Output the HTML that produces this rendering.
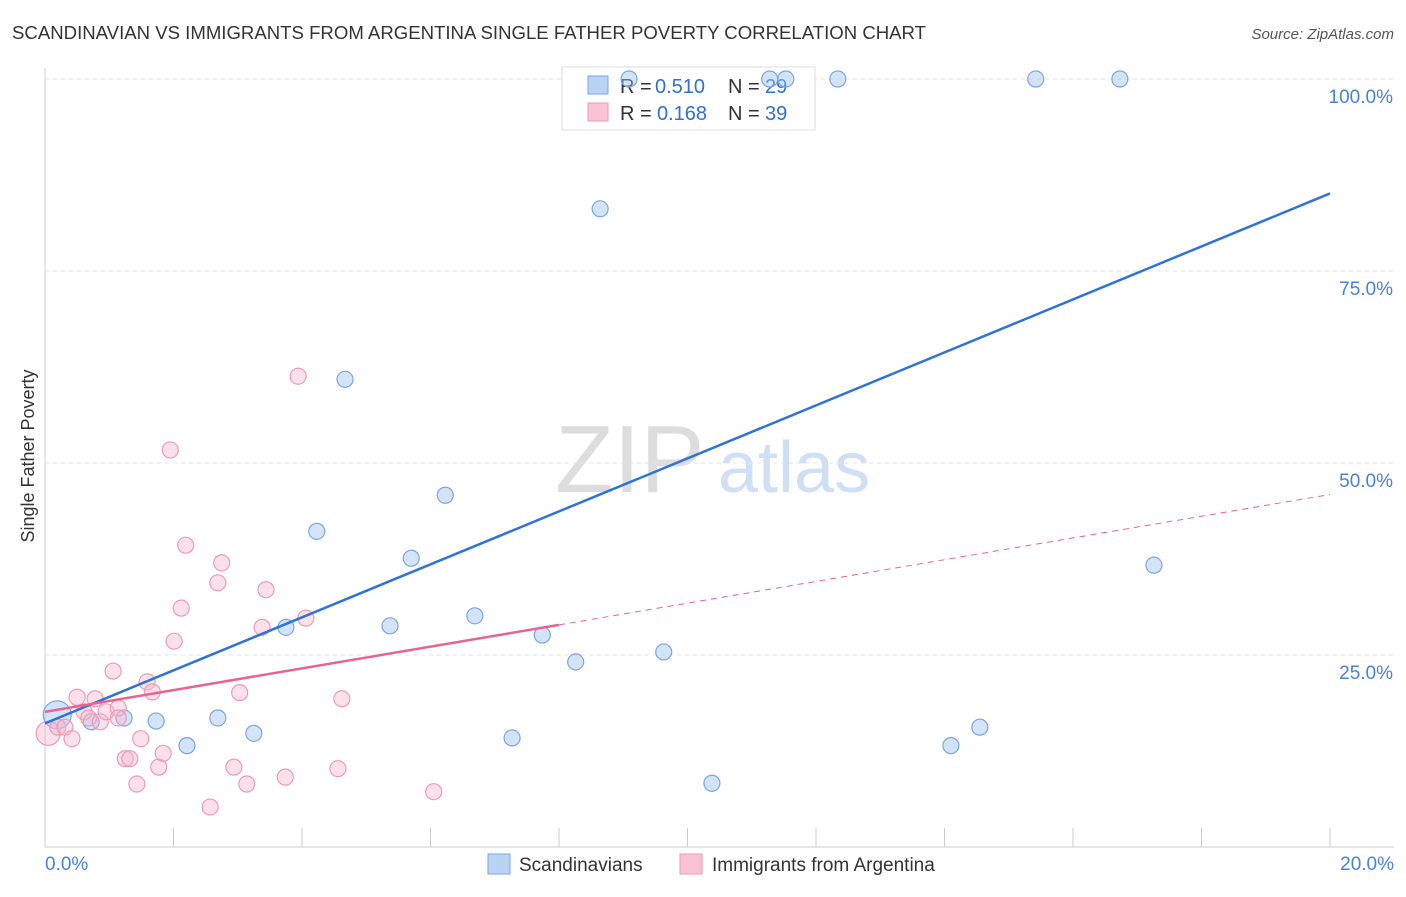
<!DOCTYPE html>
<html><head><meta charset="utf-8"><style>
body{margin:0;background:#fff;font-family:"Liberation Sans",sans-serif;}
svg text{font-family:"Liberation Sans",sans-serif;}
</style></head><body>
<svg id="c" width="1406" height="892">
<text x="12" y="39" font-size="18" fill="#333" textLength="914" lengthAdjust="spacingAndGlyphs">SCANDINAVIAN VS IMMIGRANTS FROM ARGENTINA SINGLE FATHER POVERTY CORRELATION CHART</text>
<text x="1394" y="39" font-size="15" fill="#555" font-style="italic" text-anchor="end">Source: ZipAtlas.com</text>
<text x="34" y="456" font-size="18" fill="#333" text-anchor="middle" transform="rotate(-90 34 456)">Single Father Poverty</text>
<g><text x="555" y="492" font-size="96" fill="#ddd" font-family="Liberation Serif">ZIP</text><text x="718" y="492" font-size="72" fill="#cfdff5">atlas</text></g>
<g id="grid"></g>
<g>
<rect x="562" y="67" width="253" height="63" fill="#fff" stroke="#ddd"/>
<rect x="588" y="76" width="20" height="18" fill="#b9d3f5" stroke="#7aa6e0"/>
<rect x="588" y="103" width="20" height="18" fill="#f9c3d5" stroke="#ee9ab6"/>
<text x="620" y="93" font-size="20" fill="#333">R =</text><text x="655" y="93" font-size="20" fill="#2f6fd6">0.510</text>
<text x="728" y="93" font-size="20" fill="#333">N =</text><text x="765" y="93" font-size="20" fill="#2f6fd6">29</text>
<text x="620" y="120" font-size="20" fill="#333">R =</text><text x="657" y="120" font-size="20" fill="#2f6fd6">0.168</text>
<text x="728" y="120" font-size="20" fill="#333">N =</text><text x="765" y="120" font-size="20" fill="#2f6fd6">39</text>
</g>
<g id="marks"></g>
<g>
<rect x="488" y="854" width="22" height="20" fill="#b9d3f5" stroke="#7aa6e0"/>
<text x="519" y="871" font-size="19" fill="#333">Scandinavians</text>
<rect x="680" y="854" width="22" height="20" fill="#f9c3d5" stroke="#ee9ab6"/>
<text x="712" y="871" font-size="19" fill="#333">Immigrants from Argentina</text>
</g>
</svg>
<script>
const yTicks=[25,50,75,100];
const yTickLabels=["25.0%","50.0%","75.0%","100.0%"];
const xTickLabels=["0.0%","20.0%"];
const blueX=[0.19,0.72,1.23,1.73,2.21,2.69,3.25,3.75,4.23,4.67,5.37,5.70,6.23,6.69,7.27,7.74,8.26,8.64,9.09,9.63,10.38,11.28,11.53,12.34,14.10,14.55,15.42,16.73,17.26];
const blueY=[17.2,16.3,16.8,16.4,13.2,16.8,14.8,28.6,41.1,60.9,28.8,37.6,45.8,30.1,14.2,27.6,24.1,83.1,100,25.4,8.3,100,100,100,13.2,15.6,100,100,36.7];
const pinkX=[0.05,0.2,0.31,0.42,0.5,0.61,0.68,0.78,0.86,0.95,1.06,1.14,1.25,1.32,1.43,1.49,1.59,1.67,1.77,1.84,1.95,2.01,2.12,2.19,2.57,2.69,2.75,2.94,3.03,3.14,3.38,3.44,3.74,3.94,4.06,4.56,4.62,6.05,1.14];
const pinkY=[14.8,15.6,15.6,14.1,19.5,17.6,16.8,19.3,16.3,17.6,22.9,18.1,11.5,11.5,8.2,14.1,21.5,20.2,10.4,12.2,51.7,26.8,31.1,39.3,5.2,34.4,37.0,10.4,20.1,8.2,28.6,33.5,9.1,61.3,29.8,10.2,19.3,7.2,16.8];
const blueTrend=[16.1,85.1];
const pinkTrend=[17.6,45.9];
const pinkSolidEnd=8.0;
const X=v=>45+v/20*1285, Y=v=>847-v/25*192;
const NS="http://www.w3.org/2000/svg";
function mk(p,t,a){const e=document.createElementNS(NS,t);for(const k in a)e.setAttribute(k,a[k]);p.appendChild(e);return e;}
const g=document.getElementById('grid'),m=document.getElementById('marks');
let ax=mk(g,'line',{x1:45,y1:68,x2:45,y2:847,stroke:'#ccc'});


let bx=mk(g,'line',{x1:45,y1:847,x2:1394,y2:847,stroke:'#ccc'});


for(let i=1;i<=10;i++){const t=mk(g,'line',{x1:45+i*128.5,y1:828,x2:45+i*128.5,y2:847,stroke:'#ccc'});

}
yTicks.forEach((v,i)=>{const l=mk(g,'line',{x1:45,y1:Y(v),x2:1394,y2:Y(v),stroke:'#e3e3e3','stroke-dasharray':'4 4'});


const t=mk(g,'text',{x:1393,y:Y(v)+24,'font-size':19,fill:'#4a82d8','text-anchor':'end'});t.textContent=yTickLabels[i];

});
[[0,'start',45],[20,'end',1394]].forEach((a,i)=>{const t=mk(g,'text',{x:a[2],y:870,'font-size':19,fill:'#4a82d8','text-anchor':a[1]});t.textContent=xTickLabels[i];

});
blueX.forEach((x,i)=>{const c=mk(m,'circle',{cx:X(x),cy:Y(blueY[i]),r:i==0?14:8,fill:'rgba(160,195,240,0.45)',stroke:'#7aa6e0','stroke-width':1.2});

});
pinkX.forEach((x,i)=>{const c=mk(m,'circle',{cx:X(x),cy:Y(pinkY[i]),r:i==0?12:8,fill:'rgba(248,180,205,0.4)',stroke:'#ee9ab6','stroke-width':1.2});

});
const py=x=>pinkTrend[0]+(pinkTrend[1]-pinkTrend[0])*x/20;
let l1=mk(m,'line',{x1:X(0),y1:Y(blueTrend[0]),x2:X(20),y2:Y(blueTrend[1]),stroke:'#2f72d8','stroke-width':2.5});


let l2=mk(m,'line',{x1:X(0),y1:Y(py(0)),x2:X(pinkSolidEnd),y2:Y(py(pinkSolidEnd)),stroke:'#e8648f','stroke-width':2.5});


let l3=mk(m,'line',{x1:X(pinkSolidEnd),y1:Y(py(pinkSolidEnd)),x2:X(20),y2:Y(py(20)),stroke:'#e8648f','stroke-width':1,'stroke-dasharray':'6 5'});


</script>
</body></html>
